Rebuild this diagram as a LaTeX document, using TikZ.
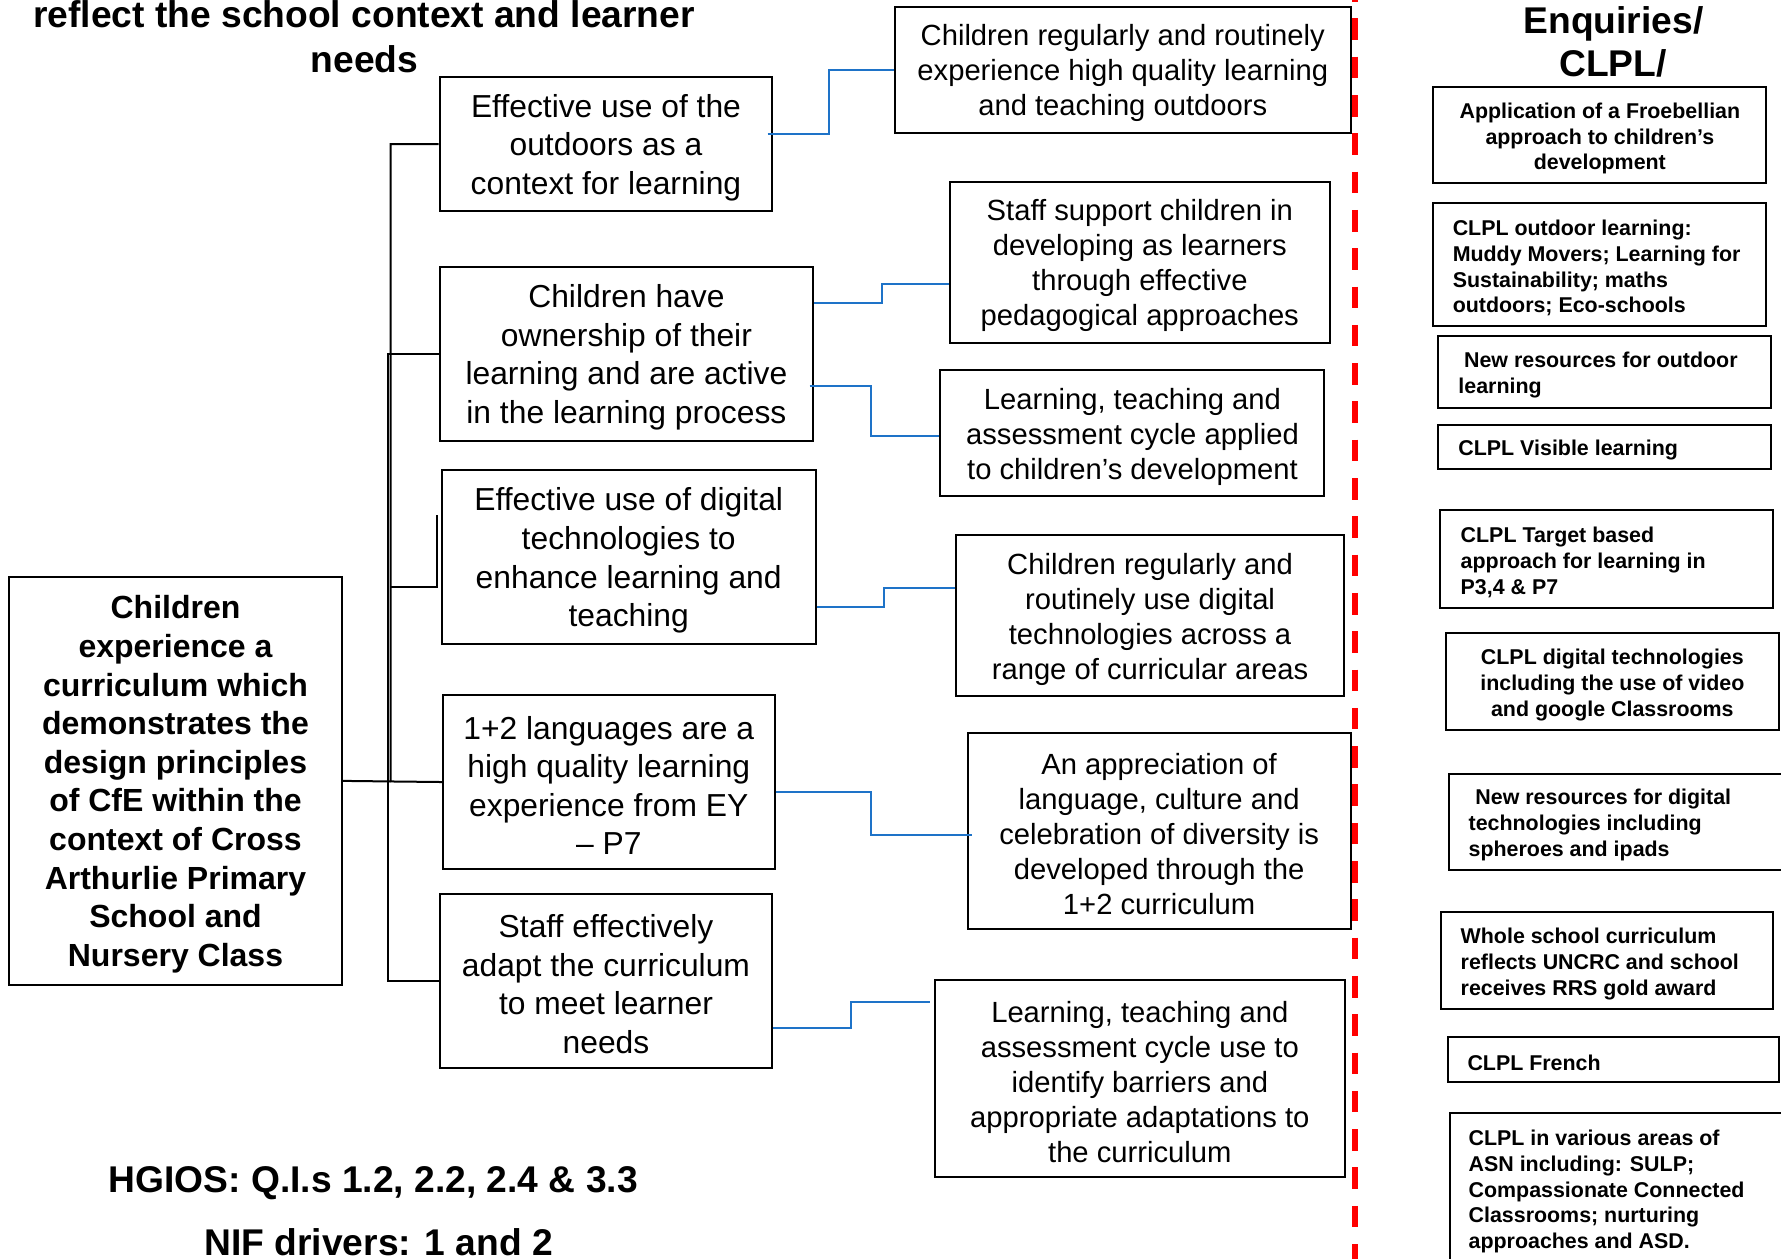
\documentclass[tikz,border=0pt]{standalone}
\usepackage{fontspec}
\setmainfont{Liberation Sans}
\usetikzlibrary{calc}
\newdimen\myu \myu=0.5679pt
\definecolor{connblue}{RGB}{30,115,200}
\definecolor{dashred}{RGB}{255,0,0}
\tikzset{
  boxbase/.style={draw=black, line width=1pt, inner sep=0pt},
  mainfont/.style={font=\bfseries\fontsize{16}{19.3}\selectfont},
  midfont/.style={font=\fontsize{15.9}{19.3}\selectfont},
  outfont/.style={font=\fontsize{14.6}{17.5}\selectfont},
  rfont/.style={font=\bfseries\fontsize{10.7}{12.9}\selectfont},
  titlefont/.style={font=\bfseries\fontsize{18.6}{21}\selectfont, inner sep=0pt},
  tree/.style={draw=black, line width=1pt},
  bluelink/.style={draw=connblue, line width=1pt},
  reddash/.style={draw=dashred, line width=2.7pt, dash pattern=on 10.8pt off 8.35pt},
}
% centred box: name x1 y1 x2 y2 style text
\newcommand\cbox[7]{%
  \pgfmathsetlengthmacro\bw{(#4-#2)*\myu}%
  \pgfmathsetlengthmacro\bh{(#5-#3)*\myu}%
  \pgfmathsetlengthmacro\tw{(#4-#2-6)*\myu}%
  \node[boxbase,#6,minimum width=\bw,minimum height=\bh]
    (#1) at ({(#2+#4)/2},{(#3+#5)/2})
    {\raisebox{-1.7pt}[\height][\depth]{\begin{minipage}{\tw}\centering #7\par\end{minipage}}};}
% left-aligned box: name x1 y1 x2 y2 pad style text
\newcommand\lbox[8]{%
  \pgfmathsetlengthmacro\bw{(#4-#2)*\myu}%
  \pgfmathsetlengthmacro\bh{(#5-#3)*\myu}%
  \pgfmathsetlengthmacro\tw{(#4-#2-2)*\myu}%
  \pgfmathsetlengthmacro\lpad{(#6-1)*\myu}%
  \node[boxbase,#7,minimum width=\bw,minimum height=\bh]
    (#1) at ({(#2+#4)/2},{(#3+#5)/2})
    {\raisebox{-1.7pt}[\height][\depth]{\begin{minipage}{\tw}\raggedright\leftskip=\lpad\relax #8\par\end{minipage}}};}
\begin{document}
\begin{tikzpicture}[x=0.5679pt,y=-0.5679pt]
\useasboundingbox (0,0) rectangle (1568,1108);
\fill[white] (0,0) rectangle (1568,1108);
\clip (0,0) rectangle (1568,1108);

% titles
\node[titlefont,anchor=base] (title1) at (320.5,24) {reflect the school context and learner};
\node[titlefont,anchor=base] (title2) at (321,63.5) {needs};
\node[titlefont,anchor=base] (enq1) at (1420.5,29.3) {Enquiries/};
\node[titlefont,anchor=base] (enq2) at (1420,67.5) {CLPL/};
\node[titlefont,anchor=base] (hgios) at (328.5,1050) {HGIOS: Q.I.s 1.2, 2.2, 2.4 \& 3.3};
\node[titlefont,anchor=base] (nif) at (333.5,1105) {NIF drivers: 1 and 2};

% main box
\cbox{main}{8}{508}{301}{867}{mainfont}{Children\\experience a\\curriculum which\\demonstrates the\\design principles\\of CfE within the\\context of Cross\\Arthurlie Primary\\School and\\Nursery Class}

% middle column
\cbox{b1}{387}{68}{680}{186}{midfont}{Effective use of the\\outdoors as a\\context for learning}
\cbox{b2}{387}{235}{716}{388}{midfont}{Children have\\ownership of their\\learning and are active\\in the learning process}
\cbox{b3}{389}{414}{718}{567}{midfont}{Effective use of digital\\technologies to\\enhance learning and\\teaching}
\cbox{b4}{390}{612}{682}{765}{midfont}{1+2 languages are a\\high quality learning\\experience from EY\\– P7}
\cbox{b5}{387}{787}{680}{940}{midfont}{Staff effectively\\adapt the curriculum\\to meet learner\\needs}

% outcome column
\cbox{c1}{788}{6}{1189}{117}{outfont}{Children regularly and routinely\\experience high quality learning\\and teaching outdoors}
\cbox{c2}{836}{160}{1171}{302}{outfont}{Staff support children in\\developing as learners\\through effective\\pedagogical approaches}
\cbox{c3}{828}{326}{1166}{437}{outfont}{Learning, teaching and\\assessment cycle applied\\to children’s development}
\cbox{c4}{842}{471}{1183}{613}{outfont}{Children regularly and\\routinely use digital\\technologies across a\\range of curricular areas}
\cbox{c5}{852}{645}{1189}{818}{outfont}{An appreciation of\\language, culture and\\celebration of diversity is\\developed through the\\1+2 curriculum}
\cbox{c6}{823}{863}{1184}{1036}{outfont}{Learning, teaching and\\assessment cycle use to\\identify barriers and\\appropriate adaptations to\\the curriculum}

% right column
\cbox{r1}{1262}{77}{1555}{161}{rfont}{Application of a Froebellian\\approach to children’s\\development}
\lbox{r2}{1262}{179}{1555}{287}{17}{rfont}{CLPL outdoor learning:\\Muddy Movers; Learning for\\Sustainability; maths\\outdoors; Eco-schools}
\lbox{r3}{1266}{296}{1559}{359}{18}{rfont}{\hspace*{5\myu}New resources for outdoor\\learning}
\lbox{r4}{1266}{374}{1559}{413}{18}{rfont}{CLPL Visible learning}
\lbox{r5}{1268}{449}{1561}{535}{18}{rfont}{CLPL Target based\\approach for learning in\\P3,4 \& P7}
\cbox{r6}{1273}{557}{1566}{643}{rfont}{CLPL digital technologies\\including the use of video\\and google Classrooms}
\lbox{r7}{1276}{681}{1576}{766}{17}{rfont}{\hspace*{6\myu}New resources for digital\\technologies including\\spheroes and ipads}
\lbox{r8}{1269}{803}{1561}{888}{17}{rfont}{Whole school curriculum\\reflects UNCRC and school\\receives RRS gold award}
\lbox{r9}{1275}{913}{1566}{953}{17}{rfont}{CLPL French}
\lbox{r10}{1277}{980}{1576}{1112}{16}{rfont}{CLPL in various areas of\\ASN including: SULP;\\Compassionate Connected\\Classrooms; nurturing\\approaches and ASD.}

% red dashed divider
\coordinate (rtop) at (1193,-17.5);
\coordinate (rbot) at (1193,1125);
\draw[reddash] (rtop) -- (rbot);

% black tree
\coordinate (tj) at (344,688);
\coordinate (tk) at (342,863.5);
\coordinate (s1) at (344,517);
\coordinate (s2) at (385,453);
\draw[tree] (main.east) -- (tj);
\draw[tree] (b1.west) -| (tj) -- (b4.west);
\draw[tree] (b2.west) -| (tk) -- (b5.west);
\draw[tree] (s1) -| (s2);

% blue elbow connectors
\draw[bluelink] ($(b1.east)+(-5,-9)$) -| ($(c1.west)+(-57,0)$) -- (c1.west);
\draw[bluelink] ($(b2.east)+(0,-44.5)$) -| ($(c2.west)+(-59,19)$) -- ($(c2.west)+(0,19)$);
\draw[bluelink] ($(b2.east)+(-4,28.5)$) -| ($(c3.west)+(-60,2.5)$) -- ($(c3.west)+(0,2.5)$);
\draw[bluelink] ($(b3.east)+(0,43.5)$) -| ($(c4.west)+(-63,-24)$) -- ($(c4.west)+(0,-24)$);
\draw[bluelink] ($(b4.east)+(0,8.5)$) -| ($(c5.west)+(-84,3.5)$) -- ($(c5.west)+(5,3.5)$);
\draw[bluelink] ($(b5.east)+(0,41.5)$) -| ($(c6.west)+(-73,-67.5)$) -- ($(c6.west)+(-3,-67.5)$);
\end{tikzpicture}
\end{document}
